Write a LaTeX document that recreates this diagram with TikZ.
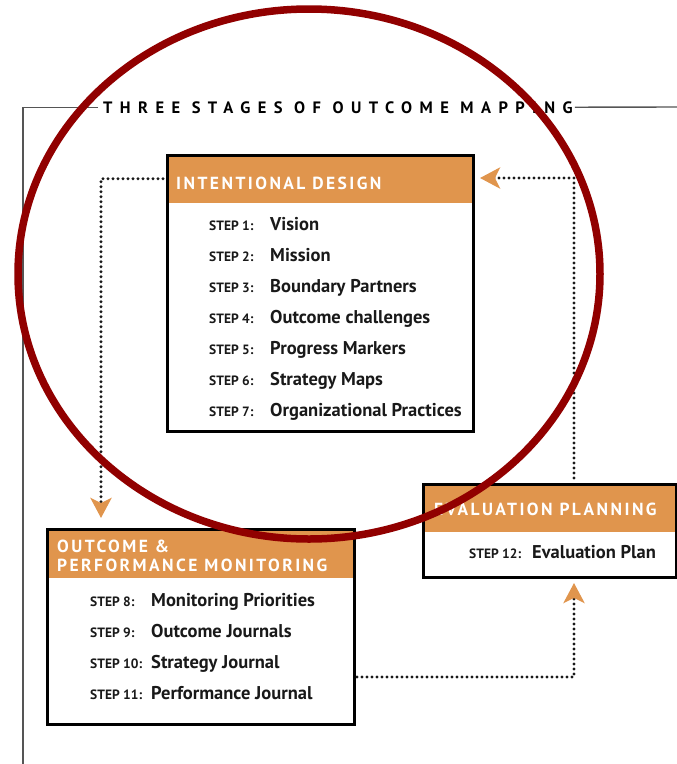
\documentclass[tikz,border=0pt]{standalone}
\usepackage{fontspec}
\setmainfont{PT Sans}
\newfontfamily\headfont[LetterSpace=14]{PT Sans}
\newfontfamily\titlefont[LetterSpace=45]{PT Sans}
\usetikzlibrary{arrows.meta,positioning}
\definecolor{stageorange}{RGB}{224,149,77}
\definecolor{ringred}{RGB}{145,0,0}
\definecolor{framegray}{RGB}{85,85,85}
\tikzset{
	stagehead/.style={fill=stageorange, anchor=north west, inner sep=0pt},
	stagebox/.style={draw, line width=2.6pt, anchor=north west, inner sep=0pt},
	headtext/.style={text=white, font=\headfont\bfseries\fontsize{17.5}{19}\selectfont, anchor=base west, inner sep=0pt, align=left},
	steplabel/.style={text=black!90, font=\bfseries\fontsize{13.5}{14}\selectfont, anchor=base west, inner sep=0pt},
	stepitem/.style={text=black!90, font=\bfseries\fontsize{18.5}{20}\selectfont, anchor=base west, inner sep=0pt},
	frameline/.style={framegray, line width=1.4pt},
	flow/.style={black!90, line width=3.4pt, dash pattern=on 0pt off 5pt, line cap=round, -{Stealth[stageorange, length=20pt, width=21pt, inset=5pt]}},
	ring/.style={ringred, line width=7.5pt}
}
\begin{document}
\begin{tikzpicture}[x=1pt,y=-1pt]
	\useasboundingbox (0,0) rectangle (677,764);
	% frame and title
	\node[anchor=base west, inner sep=0pt, font=\titlefont\bfseries\fontsize{16.5}{18}\selectfont] (title) at (103,113) {THREE STAGES OF OUTCOME MAPPING};
	\coordinate (framefoot) at (23,764);
	\coordinate (frameend) at (677,107);
	\draw[frameline] ([xshift=-5pt]title.west) -| (framefoot);
	\draw[frameline] ([xshift=2pt]title.east) -- (frameend);
	% intentional design
	\node[stagehead, minimum width=306pt, minimum height=49pt] (idhead) at (166,154) {};
	\node[stagebox, minimum width=306pt, minimum height=276pt] (idbox) at (166,154) {};
	\node[headtext] (idtitle) at (176,189) {INTENTIONAL DESIGN};
	\foreach \n/\t [count=\i from 0] in {1/Vision,2/Mission,3/Boundary Partners,4/Outcome challenges,5/Progress Markers,6/Strategy Maps,7/Organizational Practices}{
		\node[steplabel] (step\n) at (209,{230+31*\i}) {STEP \n:};
		\node[stepitem] (item\n) at (270,{230+31*\i}) {\t};
	}
	% outcome & performance monitoring
	\node[stagehead, minimum width=307pt, minimum height=50pt] (ochead) at (46,528) {};
	\node[stagebox, minimum width=307pt, minimum height=195pt] (ocbox) at (46,528) {};
	\node[headtext] (octitle) at (57,571) {OUTCOME \&\\PERFORMANCE MONITORING};
	\foreach \n/\t [count=\i from 0] in {8/Monitoring Priorities,9/Outcome Journals,10/Strategy Journal,11/Performance Journal}{
		\node[steplabel] (step\n) at (90,{606+31*\i}) {STEP \n:};
		\node[stepitem] (item\n) at (151,{606+31*\i}) {\t};
	}
	% evaluation planning
	\node[stagehead, minimum width=253pt, minimum height=49pt] (evhead) at (422,483) {};
	\node[stagebox, minimum width=253pt, minimum height=93pt] (evbox) at (422,483) {};
	\node[headtext] (evtitle) at (434,515) {EVALUATION PLANNING};
	\node[steplabel] (step12) at (469,558) {STEP 12:};
	\node[stepitem] (item12) at (532,558) {Evaluation Plan};
	% flow between stages
	\coordinate (ocin) at (101,518);
	\coordinate (ocout) at (357,677);
	\coordinate (evin) at (574,583);
	\coordinate (evout) at (574,478);
	\coordinate (idin) at (480,178);
	\draw[flow] ([xshift=-3pt]idhead.west) -| (ocin);
	\draw[flow] (ocout) -| (evin);
	\draw[flow] (evout) |- (idin);
	% highlight ring
	\draw[ring] (309,274) ellipse [x radius=291, y radius=265];
\end{tikzpicture}
\end{document}
